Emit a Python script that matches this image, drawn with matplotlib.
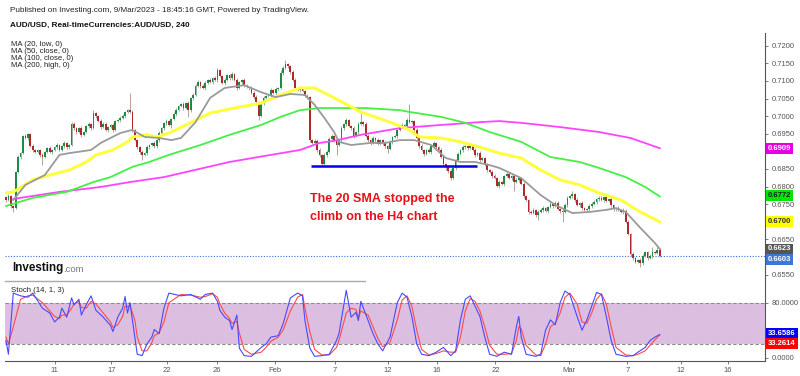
import numpy as np
import matplotlib
matplotlib.use("Agg")
import matplotlib.pyplot as plt
from matplotlib.transforms import blended_transform_factory

plt.rcParams['font.family'] = ['Liberation Sans', 'DejaVu Sans']

# AUD/USD 4H candles, 6 Jan - 9 Mar 2023
first_open = 0.6770
closes = [
    0.6762, 0.6773, 0.6745, 0.6739, 0.6842, 0.6884, 0.6895, 0.6944, 0.6938, 0.6949, 0.6915, 0.6904, 0.6898, 0.6904, 0.6890, 0.6884, 0.6898, 0.6910,
    0.6898, 0.6904, 0.6912, 0.6918, 0.6904, 0.6915, 0.6924, 0.6912, 0.6918, 0.6978, 0.6966, 0.6955, 0.6966, 0.6947, 0.6955, 0.6972, 0.6978, 0.6966,
    0.7009, 0.7000, 0.6986, 0.6969, 0.6978, 0.6961, 0.6969, 0.6975, 0.6961, 0.6986, 0.6989, 0.6995, 0.7000, 0.7012, 0.7017, 0.7012, 0.6961, 0.6932,
    0.6912, 0.6898, 0.6890, 0.6895, 0.6912, 0.6918, 0.6924, 0.6915, 0.6932, 0.6952, 0.6966, 0.6981, 0.6986, 0.6975, 0.6992, 0.7006, 0.7017, 0.7029,
    0.7035, 0.7023, 0.7037, 0.7017, 0.7052, 0.7060, 0.7086, 0.7097, 0.7086, 0.7080, 0.7094, 0.7103, 0.7097, 0.7108, 0.7103, 0.7131, 0.7114, 0.7094,
    0.7103, 0.7117, 0.7108, 0.7120, 0.7103, 0.7080, 0.7097, 0.7103, 0.7086, 0.7083, 0.7080, 0.7066, 0.7054, 0.7040, 0.7000, 0.7037, 0.7052, 0.7057,
    0.7060, 0.7074, 0.7066, 0.7077, 0.7080, 0.7123, 0.7137, 0.7148, 0.7142, 0.7125, 0.7103, 0.7080, 0.7074, 0.7080, 0.7071, 0.7057, 0.7054, 0.6932,
    0.6924, 0.6930, 0.6904, 0.6890, 0.6864, 0.6890, 0.6898, 0.6935, 0.6944, 0.6932, 0.6918, 0.6932, 0.6966, 0.6978, 0.6989, 0.6972, 0.6966, 0.6944,
    0.6955, 0.6978, 0.6983, 0.6978, 0.6944, 0.6932, 0.6924, 0.6938, 0.6932, 0.6921, 0.6932, 0.6924, 0.6915, 0.6907, 0.6927, 0.6941, 0.6944, 0.6961,
    0.6969, 0.6975, 0.6972, 0.6989, 0.6983, 0.6986, 0.6961, 0.6938, 0.6915, 0.6904, 0.6893, 0.6904, 0.6898, 0.6915, 0.6924, 0.6912, 0.6904, 0.6884,
    0.6864, 0.6856, 0.6844, 0.6824, 0.6853, 0.6876, 0.6893, 0.6904, 0.6912, 0.6915, 0.6910, 0.6918, 0.6904, 0.6890, 0.6895, 0.6876, 0.6881, 0.6861,
    0.6847, 0.6842, 0.6830, 0.6824, 0.6802, 0.6813, 0.6807, 0.6830, 0.6836, 0.6824, 0.6830, 0.6813, 0.6819, 0.6824, 0.6807, 0.6773, 0.6762, 0.6728,
    0.6725, 0.6734, 0.6719, 0.6728, 0.6734, 0.6739, 0.6731, 0.6742, 0.6751, 0.6745, 0.6754, 0.6736, 0.6731, 0.6728, 0.6748, 0.6768, 0.6773, 0.6779,
    0.6762, 0.6748, 0.6754, 0.6739, 0.6734, 0.6736, 0.6745, 0.6751, 0.6756, 0.6765, 0.6768, 0.6762, 0.6771, 0.6759, 0.6765, 0.6748, 0.6736, 0.6739,
    0.6734, 0.6728, 0.6731, 0.6700, 0.6666, 0.6609, 0.6597, 0.6586, 0.6592, 0.6583, 0.6603, 0.6614, 0.6597, 0.6603, 0.6614, 0.6612, 0.6620, 0.6603,
]
# wick lengths beyond the body, in pips
wick_up = [
    4, 6, 3, 2, 3, 5, 4, 3, 6, 4, 3, 5, 2, 4, 3, 6, 4, 3,
    5, 3, 4, 6, 3, 4, 5, 3, 4, 5, 6, 3, 4, 7, 3, 4, 5, 3,
    8, 4, 3, 5, 4, 6, 3, 4, 5, 3, 4, 6, 5, 3, 4, 49, 5, 3,
    4, 3, 5, 4, 6, 3, 4, 5, 3, 6, 4, 3, 5, 4, 3, 5, 6, 4,
    3, 5, 4, 6, 3, 5, 4, 7, 3, 4, 5, 3, 6, 4, 5, 6, 3, 4,
    5, 3, 4, 6, 3, 5, 4, 3, 6, 4, 3, 5, 4, 6, 3, 4, 5, 3,
    4, 6, 3, 5, 4, 7, 5, 11, 4, 3, 5, 4, 3, 6, 4, 3, 5, 4,
    3, 5, 4, 6, 3, 4, 5, 6, 4, 3, 5, 4, 6, 3, 5, 4, 3, 5,
    4, 6, 29, 3, 5, 4, 3, 6, 4, 5, 3, 4, 6, 3, 5, 4, 3, 5,
    4, 6, 3, 5, 46, 4, 3, 5, 4, 6, 3, 4, 5, 3, 6, 4, 3, 5,
    4, 3, 5, 6, 4, 3, 5, 4, 6, 3, 4, 5, 3, 6, 4, 5, 3, 4,
    5, 3, 4, 6, 3, 5, 4, 3, 6, 5, 4, 3, 5, 4, 3, 6, 4, 3,
    5, 4, 3, 6, 4, 5, 3, 4, 6, 3, 5, 4, 3, 6, 5, 4, 3, 9,
    4, 5, 3, 6, 4, 3, 5, 4, 6, 3, 5, 4, 3, 6, 4, 5, 3, 4,
    5, 3, 8, 6, 4, 3, 5, 4, 3, 6, 5, 4, 3, 5, 15, 4, 8, 5,
]
wick_dn = [
    5, 4, 6, 11, 3, 4, 5, 3, 4, 6, 3, 5, 4, 3, 5, 23, 4, 3,
    4, 5, 3, 6, 4, 3, 5, 4, 6, 3, 4, 5, 3, 6, 4, 3, 5, 4,
    3, 5, 4, 6, 3, 4, 5, 3, 6, 4, 3, 5, 4, 6, 3, 4, 5, 3,
    4, 6, 14, 3, 5, 4, 3, 6, 4, 5, 3, 4, 6, 3, 10, 4, 5, 3,
    4, 6, 3, 19, 4, 5, 3, 4, 6, 3, 5, 4, 3, 6, 4, 5, 3, 4,
    5, 3, 6, 4, 3, 5, 4, 6, 3, 4, 5, 3, 6, 4, 11, 3, 5, 4,
    3, 6, 4, 5, 3, 4, 6, 3, 5, 4, 3, 6, 4, 5, 3, 4, 6, 5,
    4, 3, 6, 5, 5, 4, 6, 3, 5, 4, 28, 3, 5, 4, 6, 3, 4, 5,
    3, 6, 4, 5, 3, 4, 6, 3, 5, 4, 3, 6, 4, 12, 3, 5, 4, 6,
    3, 4, 5, 6, 3, 4, 5, 3, 6, 4, 5, 3, 4, 6, 3, 5, 4, 3,
    5, 8, 4, 6, 3, 5, 4, 3, 6, 4, 5, 3, 4, 6, 3, 5, 4, 3,
    6, 4, 5, 3, 4, 6, 3, 5, 4, 3, 6, 25, 4, 5, 3, 6, 4, 5,
    3, 4, 6, 14, 3, 5, 4, 6, 3, 5, 4, 3, 6, 28, 4, 5, 3, 4,
    6, 3, 5, 4, 3, 6, 4, 5, 3, 4, 6, 3, 5, 4, 3, 6, 4, 5,
    3, 4, 5, 3, 4, 5, 6, 4, 3, 11, 5, 4, 6, 3, 5, 4, 3, 4,
]

# moving averages, read at a few bars
ma20_x = [3, 8, 16, 22, 26, 35, 39, 47, 52, 57, 63, 68, 72, 78, 84, 90, 98, 105, 111, 117, 123, 127,
          131, 135, 137, 142, 150, 156, 162, 168, 175, 181, 187, 193, 199, 203, 212, 220, 226, 233,
          240, 247, 251, 255, 261, 267, 269]
ma20_y = [0.6762, 0.6805, 0.6833, 0.6890, 0.6895, 0.6904, 0.6924, 0.6952, 0.6961, 0.6941, 0.6938, 0.6932,
          0.6938, 0.6983, 0.7052, 0.7080, 0.7088, 0.7068, 0.7054, 0.7063, 0.7060, 0.7032, 0.6995, 0.6955,
          0.6927, 0.6918, 0.6924, 0.6924, 0.6932, 0.6932, 0.6918, 0.6881, 0.6870, 0.6870, 0.6861, 0.6853,
          0.6824, 0.6776, 0.6748, 0.6725, 0.6728, 0.6734, 0.6739, 0.6728, 0.6683, 0.6640, 0.6623]
ma50_x = [0, 3, 11, 18, 26, 33, 37, 44, 50, 52, 58, 62, 67, 74, 84, 96, 105, 113, 121, 127, 135, 146,
          158, 166, 170, 179, 187, 195, 203, 212, 220, 228, 236, 244, 253, 261, 269]
ma50_y = [0.6782, 0.6785, 0.6819, 0.6833, 0.6847, 0.6870, 0.6890, 0.6904, 0.6927, 0.6941, 0.6947, 0.6941,
          0.6952, 0.6975, 0.7009, 0.7026, 0.7037, 0.7060, 0.7080, 0.7080, 0.7052, 0.7012, 0.6983, 0.6961,
          0.6941, 0.6938, 0.6927, 0.6912, 0.6895, 0.6881, 0.6847, 0.6819, 0.6805, 0.6782, 0.6762, 0.6728,
          0.6700]
ma100_x = [0, 11, 25, 36, 43, 52, 59, 67, 80, 92, 105, 113, 121, 129, 148, 162, 166, 179, 189, 199, 212,
           224, 236, 244, 255, 263, 269]
ma100_y = [0.6745, 0.6768, 0.6785, 0.6813, 0.6827, 0.6856, 0.6870, 0.6890, 0.6918, 0.6947, 0.6975, 0.6998,
           0.7017, 0.7023, 0.7023, 0.7017, 0.7012, 0.6998, 0.6981, 0.6955, 0.6927, 0.6884, 0.6870, 0.6853,
           0.6827, 0.6799, 0.6772]
ma200_x = [3, 22, 39, 51, 65, 92, 109, 121, 129, 135, 146, 162, 179, 195, 203, 212, 228, 244, 257, 269]
ma200_y = [0.6765, 0.6785, 0.6799, 0.6813, 0.6827, 0.6870, 0.6890, 0.6904, 0.6924, 0.6930, 0.6947, 0.6966,
           0.6975, 0.6983, 0.6986, 0.6981, 0.6969, 0.6955, 0.6938, 0.6909]

support_level = 0.6859
last_price = 0.6603

# Stochastic (14, 1, 3)
stoch_x = [0, 1, 3, 6, 9, 11, 15, 18, 20, 22, 23, 25, 27, 28, 30, 31, 33, 35, 37, 40,
           43, 44, 46, 48, 49, 50, 51, 53, 54, 56, 58, 60, 61, 63, 65, 67, 72, 76, 80, 82,
           85, 87, 88, 90, 92, 93, 95, 96, 98, 101, 105, 107, 109, 112, 114, 117, 120, 122, 123, 125,
           127, 130, 133, 136, 137, 140, 142, 144, 145, 146, 149, 151, 153, 155, 158, 161, 163, 165, 167, 169,
           171, 174, 177, 180, 183, 185, 187, 189, 191, 193, 195, 197, 199, 202, 205, 208, 210, 211, 212, 214,
           218, 220, 222, 224, 226, 228, 230, 232, 235, 237, 239, 241, 243, 245, 247, 249, 251, 255, 258, 260,
           263, 265, 267, 269]
stoch_k = [25, 5, 94, 90, 88, 94, 72, 65, 52, 59, 72, 59, 87, 77, 85, 62, 77, 90, 69, 59,
           47, 38, 59, 72, 89, 65, 80, 30, 5, 3, 20, 30, 41, 35, 72, 94, 90, 92, 85, 92,
           94, 82, 69, 59, 54, 41, 62, 14, 3, 2, 15, 20, 30, 32, 49, 87, 94, 90, 54, 14,
           2, 3, 5, 25, 35, 98, 59, 66, 54, 82, 54, 35, 20, 10, 30, 80, 94, 88, 60, 20,
           5, 3, 8, 15, 3, 10, 55, 85, 90, 75, 60, 30, 5, 2, 8, 5, 45, 60, 30, 5,
           2, 5, 40, 55, 48, 80, 97, 92, 60, 40, 55, 75, 95, 92, 60, 25, 5, 2, 3, 8,
           15, 25, 30, 33.6586]
stoch_d = [30, 20, 45, 85, 90, 91, 80, 68, 60, 57, 62, 62, 72, 78, 82, 73, 72, 82, 78, 65,
           52, 44, 48, 60, 75, 74, 76, 55, 30, 10, 10, 22, 32, 36, 52, 80, 92, 91, 88, 89,
           93, 88, 78, 65, 57, 50, 53, 36, 12, 5, 8, 15, 24, 30, 40, 68, 88, 92, 72, 38,
           12, 4, 4, 15, 25, 65, 72, 70, 58, 68, 62, 45, 28, 16, 22, 55, 84, 90, 75, 40,
           12, 4, 6, 10, 8, 8, 30, 68, 86, 82, 68, 45, 18, 5, 5, 6, 25, 45, 42, 18,
           4, 3, 20, 45, 50, 65, 88, 94, 78, 52, 50, 65, 85, 93, 78, 45, 15, 4, 3, 5,
           10, 18, 26, 33.2614]

date_labels = ['11', '17', '22', '26', 'Feb', '7', '12', '16', '22', 'Mar', '7', '12', '16']
date_pos = [20.0, 43.4, 66.3, 86.7, 110.6, 135.2, 157.2, 177.4, 201.4, 231.5, 255.7, 277.8, 297.1]

# price scale ticks left visible (the others sit under the value tags)
price_ticks = [0.6550, 0.6650, 0.6750, 0.6800, 0.6850, 0.6950, 0.7000, 0.7050, 0.7100, 0.7150, 0.7200]
stoch_ticks = [0, 80]

W, H = 800, 376
fig = plt.figure(figsize=(W / 100, H / 100), dpi=100)
fig.patch.set_facecolor('white')


def px(x, y):
    return x / W, 1 - y / H


ax = fig.add_axes([5 / W, 1 - 281 / H, 760 / W, 248 / H])
ax_st = fig.add_axes([5 / W, 1 - 361 / H, 760 / W, 80 / H], sharex=ax)

# candles
closes_a = np.array(closes)
opens_a = np.concatenate([[first_open], closes_a[:-1]])
idx = np.arange(len(closes_a))
body_lo = np.minimum(opens_a, closes_a)
body_hi = np.maximum(opens_a, closes_a)
highs = body_hi + np.array(wick_up) * 1e-4
lows = body_lo - np.array(wick_dn) * 1e-4
up = closes_a >= opens_a
body_col = np.where(up, '#1f8a43', '#b0282a')
wick_col = np.where(up, '#86a890', '#ad918f')
ax.vlines(idx, lows, highs, colors=wick_col, lw=0.6, zorder=2)
ax.bar(idx, np.maximum(body_hi - body_lo, 0.00007), bottom=body_lo, width=0.72,
       color=body_col, lw=0, zorder=2.2)

ax.plot(ma200_x, ma200_y, color='#ff44ff', lw=1.3, zorder=3)
ax.plot(ma100_x, ma100_y, color='#44f044', lw=1.3, zorder=3)
ax.plot(ma50_x, ma50_y, color='#ffff3a', lw=2.1, zorder=3)
ax.plot(ma20_x, ma20_y, color='#9a9a9a', lw=1.3, zorder=3.1)

ax.hlines(support_level, 125.5, 193.8, color='#0000ee', lw=1.8, zorder=4)
ax.axhline(last_price, color='#3c6fd8', lw=0.8, ls=(0, (1, 1.5)), zorder=1)

ax.set_xlim(-0.41, 312.3)
ax.set_ylim(0.65321, 0.7236)
for s in ['left', 'top', 'bottom']:
    ax.spines[s].set_visible(False)
ax.spines['right'].set_color('#555555')
ax.spines['right'].set_linewidth(0.8)
ax.yaxis.tick_right()
ax.set_yticks(price_ticks)
ax.yaxis.set_major_formatter(plt.FormatStrFormatter('%.4f'))
ax.tick_params(axis='y', labelsize=5.5, length=2.5, width=0.6, colors='#666666',
               labelcolor='#555555', pad=2)
ax.tick_params(axis='x', bottom=False, labelbottom=False)

tr = blended_transform_factory(ax.transAxes, ax.transData)


def price_tag(a, trans, y, text, bg, fg):
    a.text(1.004, y, text, transform=trans, fontsize=5.5, weight='bold', color=fg,
           va='center', ha='left', zorder=10, clip_on=False,
           bbox=dict(boxstyle='square,pad=0.25', fc=bg, ec='none'))


price_tag(ax, tr, 0.6909, '0.6909', '#e600e6', 'white')
price_tag(ax, tr, 0.6774, '0.6772', '#00e600', '#222222')
price_tag(ax, tr, 0.6700, '0.6700', '#ffff00', '#333333')
price_tag(ax, tr, 0.6623, '0.6623', '#555555', 'white')
price_tag(ax, tr, 0.6594, '0.6603', '#3c78d8', 'white')

# stochastic pane
ax_st.axhspan(20, 80, color='#dcbfe0', lw=0, zorder=0)
ax_st.axhline(80, color='#8a8a8a', lw=0.8, ls=(0, (3, 2)), zorder=1)
ax_st.axhline(20, color='#8a8a8a', lw=0.8, ls=(0, (3, 2)), zorder=1)
ax_st.plot(stoch_x, stoch_k, color='#4848ff', lw=0.8, zorder=3)
ax_st.plot(stoch_x, stoch_d, color='#ff4a4a', lw=0.8, zorder=2.5)
ax_st.set_ylim(-4.8, 111.6)
for s in ['left', 'top']:
    ax_st.spines[s].set_visible(False)
for s in ['right', 'bottom']:
    ax_st.spines[s].set_color('#555555')
    ax_st.spines[s].set_linewidth(0.8)
ax_st.yaxis.tick_right()
ax_st.set_yticks(stoch_ticks)
ax_st.yaxis.set_major_formatter(plt.FormatStrFormatter('%.4f'))
ax_st.tick_params(axis='y', labelsize=5.5, length=2.5, width=0.6, colors='#666666',
                  labelcolor='#555555', pad=2)
ax_st.set_xticks(date_pos)
ax_st.set_xticklabels(date_labels)
ax_st.tick_params(axis='x', labelsize=5.5, length=2.5, width=0.6, colors='#666666',
                  labelcolor='#555555', pad=1.5)
ax_st.plot([0, 0.4737], [1, 1], transform=ax_st.transAxes, color='#aaaaaa', lw=1,
           clip_on=False, zorder=5)

tr2 = blended_transform_factory(ax_st.transAxes, ax_st.transData)
price_tag(ax_st, tr2, 35.5, '33.6586', '#0000ff', 'white')
price_tag(ax_st, tr2, 21.0, '33.2614', '#ff0000', 'white')

# texts
fig.text(*px(10, 11), 'Published on Investing.com, 9/Mar/2023 - 18:45:16 GMT, Powered by TradingView.',
         fontsize=5.9, va='center', color='#222222')
fig.text(*px(10, 25), 'AUD/USD, Real-timeCurrencies:AUD/USD, 240', fontsize=5.9, weight='bold',
         va='center', color='#111111')
for i, t in enumerate(['MA (20, low, 0)', 'MA (50, close, 0)', 'MA (100, close, 0)', 'MA (200, high, 0)']):
    fig.text(*px(11, 45 + i * 6.8), t, fontsize=5.6, va='center', color='#222222')
fig.text(*px(11, 291), 'Stoch (14, 1, 3)', fontsize=5.6, va='center', color='#222222')

fig.text(*px(310, 199), 'The 20 SMA stopped the', fontsize=9, weight='bold', color='#e8101a', va='center')
fig.text(*px(310, 217), 'climb on the H4 chart', fontsize=9, weight='bold', color='#e8101a', va='center')

fig.text(*px(12, 268), 'Investing', fontsize=8.4, weight='bold', color='#111111', va='center')
fig.text(*px(63, 269), '.com', fontsize=6.8, color='#777777', va='center')

fig.savefig('out.png', dpi=100, facecolor='white')
